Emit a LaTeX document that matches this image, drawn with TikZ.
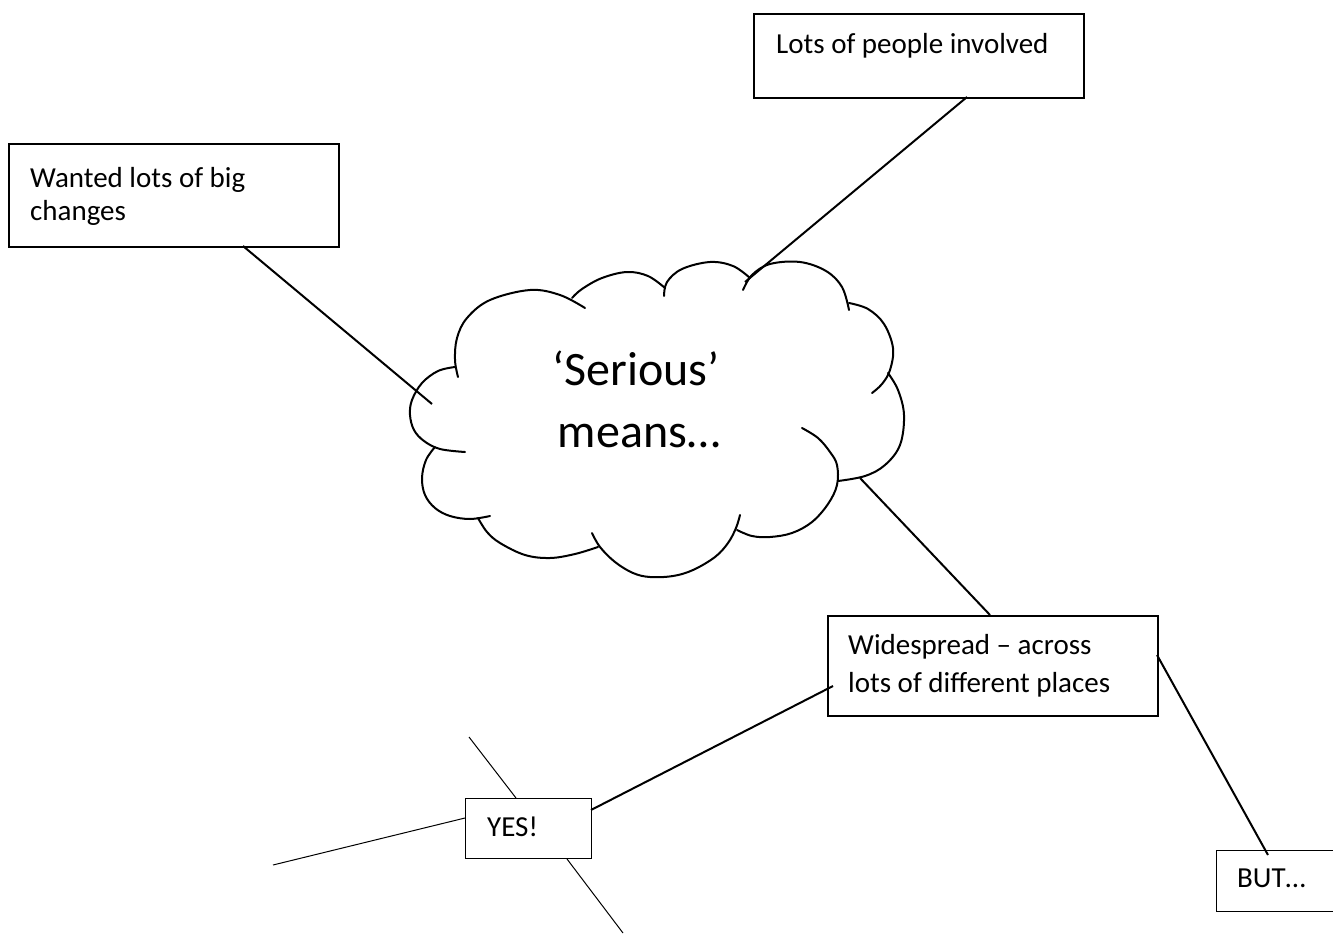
\documentclass[tikz,border=0pt]{standalone}
\usepackage{fontspec}
\setmainfont{Carlito}
\begin{document}
\begin{tikzpicture}[x=1pt,y=-1pt,
  box/.style={draw=black, line width=2pt, inner sep=0pt, anchor=north west},
  thinbox/.style={draw=black, line width=1.3pt, inner sep=0pt, anchor=north west},
  lbl/.style={anchor=base west, inner sep=0pt, font=\fontsize{29}{34}\selectfont},
  big/.style={anchor=base, inner sep=0pt, font=\fontsize{48}{58}\selectfont},
  conn/.style={line width=2pt},
  thin/.style={line width=1pt},
  cloudline/.style={line width=2pt, line cap=round}]
\useasboundingbox (0,0) rectangle (1333,934);
\clip (0,0) rectangle (1333,934);

% boxes
\node[box, minimum width=330pt, minimum height=103pt] (wanted) at (8,143) {};
\node[box, minimum width=330pt, minimum height=84pt] (lots) at (753,13) {};
\node[box, minimum width=330pt, minimum height=100pt] (wide) at (827,615) {};
\node[thinbox, minimum width=126pt, minimum height=60pt] (yes) at (465,798) {};
\node[thinbox, minimum width=130pt, minimum height=61pt] (but) at (1216,850) {};

% texts
\node[lbl] (t1) at (30,187) {Wanted lots of big};
\node[lbl] (t2) at (30,220) {changes};
\node[lbl] (t3) at (776,53) {Lots of people involved};
\node[lbl] (t4) at (848,654) {Widespread – across};
\node[lbl] (t5) at (848,692) {lots of different places};
\node[lbl] (t6) at (487,836) {YES!};
\node[lbl] (t7) at (1237,887) {BUT…};
\node[big] (c1) at (636,385) {‘Serious’};
\node[big] (c2) at (639,447) {means…};

% cloud
\draw[cloudline] plot[smooth, tension=0.6] coordinates {(458,377) (455,360) (457,338) (467,318) (490,300) (530,290) (560,295) (585,308)};
\draw[cloudline] plot[smooth, tension=0.6] coordinates {(572,298) (582,289) (602,278) (627,272) (648,276) (665,288)};
\draw[cloudline] plot[smooth, tension=0.6] coordinates {(664,296) (667,282) (682,269) (710,262) (733,266) (750,278)};
\draw[cloudline] plot[smooth, tension=0.6] coordinates {(743,290) (752,275) (770,264) (800,262) (826,271) (842,287) (849,310)};
\draw[cloudline] plot[smooth, tension=0.6] coordinates {(849,303) (868,309) (884,324) (893,348) (890,370) (882,384) (872,393)};
\draw[cloudline] plot[smooth, tension=0.6] coordinates {(888,373) (898,390) (904,415) (900,445) (885,465) (865,476) (838,481)};
\draw[cloudline] plot[smooth, tension=0.6] coordinates {(737,530) (752,536) (770,537) (792,533) (812,522) (828,504) (837,485) (837,465) (830,452) (818,438) (802,428)};
\draw[cloudline] plot[smooth, tension=0.6] coordinates {(592,533) (600,547) (615,562) (633,573) (650,577) (673,576) (693,570) (715,557) (728,543) (736,528) (740,515)};
\draw[cloudline] plot[smooth, tension=0.6] coordinates {(478,518) (487,532) (500,543) (525,555) (550,558) (575,554) (598,547)};
\draw[cloudline] plot[smooth, tension=0.6] coordinates {(435,447) (426,460) (422,478) (425,495) (435,508) (450,516) (470,519) (490,516)};
\draw[cloudline] plot[smooth, tension=0.6] coordinates {(455,367) (438,371) (422,383) (412,400) (410,415) (414,430) (424,441) (440,449) (465,452)};

% connector end points
\coordinate (wantedtail) at (243,246);
\coordinate (cloudL) at (432,404);
\coordinate (lotstail) at (967,97);
\coordinate (cloudT) at (745,282);
\coordinate (cloudR) at (860,478);
\coordinate (widetop) at (990,615);
\coordinate (wideleft) at (833,686);
\coordinate (yesright) at (591,810);
\coordinate (wideright) at (1157,655);
\coordinate (buttop) at (1268,855);
\coordinate (yestop) at (516,798);
\coordinate (yesA) at (469,737);
\coordinate (yesbottom) at (567,859);
\coordinate (yesB) at (623,933);
\coordinate (yesleft) at (465,818);
\coordinate (yesC) at (273,865);

% connectors
\draw[conn] (wantedtail) -- (cloudL);
\draw[conn] (lotstail) -- (cloudT);
\draw[conn] (cloudR) -- (widetop);
\draw[conn] (wideleft) -- (yesright);
\draw[conn] (wideright) -- (buttop);
\draw[thin] (yesA) -- (yestop);
\draw[thin] (yesbottom) -- (yesB);
\draw[thin] (yesC) -- (yesleft);
\end{tikzpicture}
\end{document}
